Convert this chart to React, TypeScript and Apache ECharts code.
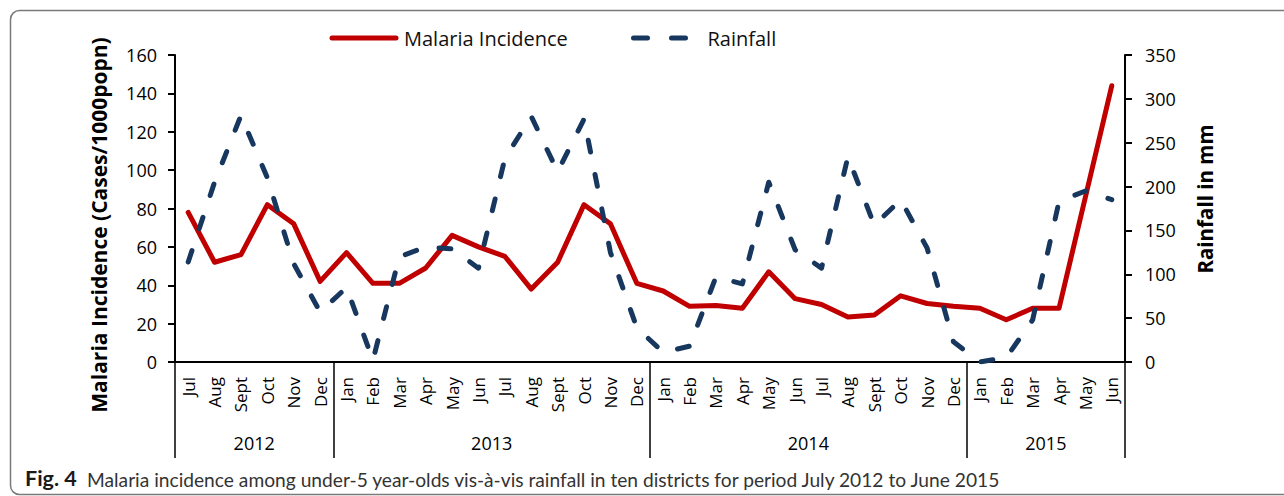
import React, { useEffect, useRef } from "react";
import * as echarts from "echarts";

const months = [
  "Jul", "Aug", "Sept", "Oct", "Nov", "Dec",
  "Jan", "Feb", "Mar", "Apr", "May", "Jun", "Jul", "Aug", "Sept", "Oct", "Nov", "Dec",
  "Jan", "Feb", "Mar", "Apr", "May", "Jun", "Jul", "Aug", "Sept", "Oct", "Nov", "Dec",
  "Jan", "Feb", "Mar", "Apr", "May", "Jun",
];
const years = ["2012", "2013", "2014", "2015"];
const monthsPerYear = [6, 12, 12, 6];

const malaria = [
  78, 52, 56, 82, 72, 42,
  57, 41, 41, 49, 66, 60, 55, 38, 52, 82, 72, 41,
  37, 29, 29.5, 28, 47, 33, 30, 23.5, 24.5, 34.5, 30.5, 29,
  28, 22, 28, 28, 86, 144,
];
const rainfall = [
  114, 205, 281, 210, 112, 57,
  85, 2, 120, 131, 129, 107, 232, 280, 217, 277, 125, 39,
  11, 18, 97, 89, 205, 128, 107, 234, 156, 185, 130, 23,
  0, 5, 48, 183, 195, 185,
];

const leftTicks = { min: 0, max: 160, interval: 20 };
const rightTicks = { min: 0, max: 350, interval: 50 };

const FONT = "Open Sans";

export default function App() {
  const ref = useRef<HTMLDivElement>(null);
  useEffect(() => {
    const chart = echarts.init(ref.current!, undefined, { renderer: "svg" });

    // half-month axis for year labels and year separators
    const yearAxisData: string[] = new Array(months.length * 2 + 1).fill("");
    const yearTickIdx: number[] = [0];
    let cum = 0;
    years.forEach((y, i) => {
      yearAxisData[cum * 2 + monthsPerYear[i]] = y;
      cum += monthsPerYear[i];
      yearTickIdx.push(cum * 2);
    });

    chart.setOption({
      animation: false,
      textStyle: { fontFamily: FONT },
      grid: { left: 175, right: 159, top: 55, bottom: 134, containLabel: false },
      legend: [
        {
          data: ["Malaria Incidence"],
          left: 329.5,
          top: 28,
          padding: 0,
          itemWidth: 64,
          itemHeight: 20,
          itemStyle: { opacity: 0 },
          lineStyle: { width: 5, cap: "round" },
          textStyle: { fontSize: 20, color: "#111", fontFamily: FONT, padding: [0, 0, 0, 3] },
        },
        {
          data: ["Rainfall"],
          left: 631,
          top: 28,
          padding: 0,
          itemWidth: 52,
          itemHeight: 20,
          itemStyle: { opacity: 0 },
          lineStyle: { width: 5, cap: "round", type: [14, 24] },
          textStyle: { fontSize: 20, color: "#111", fontFamily: FONT, padding: [0, 0, 0, 17] },
        },
      ],
      xAxis: [
        {
          type: "category",
          data: months,
          boundaryGap: true,
          axisLine: { lineStyle: { color: "#000", width: 2 } },
          axisTick: { interval: 0, length: 54, lineStyle: { color: "#000", width: 1.5 } },
          axisLabel: { interval: 0, rotate: 90, fontSize: 17, color: "#000", margin: 15, fontFamily: FONT },
        },
        {
          type: "category",
          data: yearAxisData,
          boundaryGap: false,
          position: "bottom",
          axisLine: { show: false },
          axisTick: {
            interval: (i: number) => yearTickIdx.includes(i),
            length: 96,
            lineStyle: { color: "#000", width: 1.5 },
          },
          axisLabel: { interval: 0, fontSize: 18, color: "#000", margin: 72, fontFamily: FONT },
        },
      ],
      yAxis: [
        {
          type: "value",
          ...leftTicks,
          position: "left",
          axisLine: { show: true, lineStyle: { color: "#000", width: 2 } },
          axisTick: { show: true, length: 7, lineStyle: { color: "#000", width: 2 } },
          splitLine: { show: false },
          axisLabel: { fontSize: 18, color: "#000", margin: 18, fontFamily: FONT },
        },
        {
          type: "value",
          ...rightTicks,
          position: "right",
          axisLine: { show: true, lineStyle: { color: "#000", width: 2 } },
          axisTick: { show: true, length: 7, lineStyle: { color: "#000", width: 2 } },
          splitLine: { show: false },
          axisLabel: { fontSize: 18, color: "#000", margin: 20, fontFamily: FONT },
        },
      ],
      series: [
        {
          name: "Malaria Incidence",
          type: "line",
          data: malaria,
          symbol: "none",
          lineStyle: { color: "#C00000", width: 5, join: "round", cap: "round" },
          itemStyle: { color: "#C00000" },
        },
        {
          name: "Rainfall",
          type: "line",
          yAxisIndex: 1,
          data: rainfall,
          symbol: "none",
          lineStyle: { color: "#17375E", width: 5, type: [12, 23], cap: "round", join: "round" },
          itemStyle: { color: "#17375E" },
        },
      ],
      graphic: [
        {
          type: "rect",
          silent: true,
          z: -10,
          shape: { x: 10.5, y: 10.5, width: 1320, height: 484, r: 9 },
          style: { fill: "none", stroke: "#7a7a7a", lineWidth: 1.5 },
        },
        {
          type: "text",
          x: 99,
          y: 225,
          rotation: Math.PI / 2,
          style: {
            text: "Malaria Incidence (Cases/1000popn)",
            fontSize: 21,
            fontWeight: "bold",
            fontFamily: FONT,
            fill: "#000",
            align: "center",
            verticalAlign: "middle",
          },
        },
        {
          type: "text",
          x: 1205,
          y: 199,
          rotation: Math.PI / 2,
          style: {
            text: "Rainfall in mm",
            fontSize: 20.5,
            fontWeight: "bold",
            fontFamily: FONT,
            fill: "#000",
            align: "center",
            verticalAlign: "middle",
          },
        },
        {
          type: "text",
          x: 25,
          y: 478,
          style: {
            text: "Fig. 4",
            fontSize: 21.5,
            fontWeight: "bold",
            fontFamily: "Lato",
            fill: "#1a1a1a",
            align: "left",
            verticalAlign: "middle",
          },
        },
        {
          type: "text",
          x: 87,
          y: 479,
          style: {
            text: "Malaria incidence among under-5 year-olds vis-à-vis rainfall in ten districts for period July 2012 to June 2015",
            fontSize: 19.2,
            fontFamily: "Lato",
            fill: "#333",
            align: "left",
            verticalAlign: "middle",
          },
        },
      ],
    });
    return () => chart.dispose();
  }, []);
  return <div ref={ref} style={{ width: 1284, height: 496, position: "absolute", left: 0, top: 0 }} />;
}
